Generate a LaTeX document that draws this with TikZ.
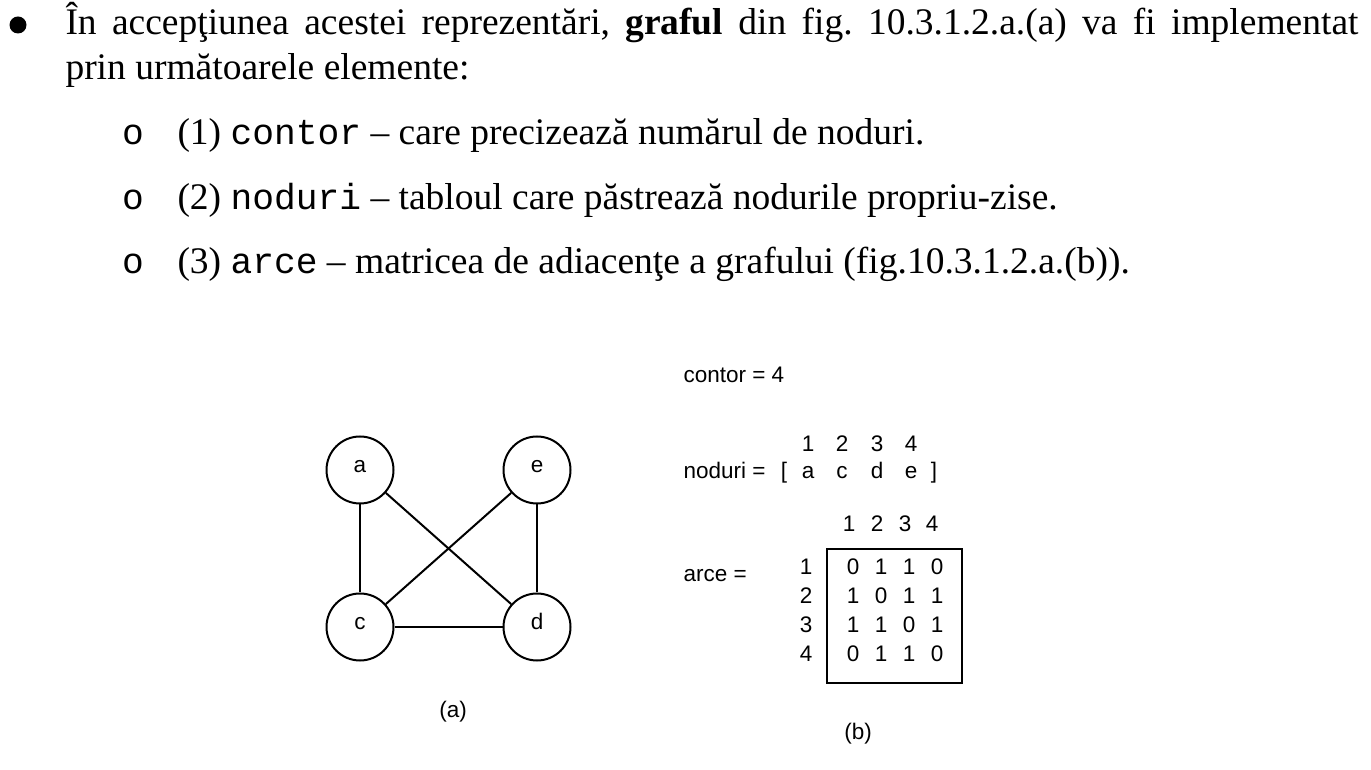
\documentclass[tikz,border=0pt]{standalone}
\usepackage{fontspec}
\setmainfont{Liberation Serif}
\setsansfont{Liberation Sans}
\setmonofont{Liberation Mono}
\frenchspacing
\newcommand{\cod}[1]{{\fontsize{14.5}{17}\ttfamily #1}}
\tikzset{
  vertex/.style={draw, circle, line width=0.8pt, minimum size=26.8pt, inner sep=0pt, text height=2.4pt, text depth=0pt, font=\sffamily\fontsize{9}{10}\selectfont},
  eticheta/.style={font=\sffamily\fontsize{9}{10}\selectfont, inner sep=0pt, anchor=base},
  textul/.style={font=\fontsize{15}{17}\selectfont, inner sep=0pt, anchor=base west},
  marcaj/.style={font=\fontsize{14.5}{17}\ttfamily, inner sep=0pt, anchor=base},
  muchie/.style={line width=0.8pt}
}

\begin{document}
\begin{tikzpicture}[x=0.4pt,y=-0.4pt]
			\useasboundingbox (0,0) rectangle (1371,770);
			% textul de sus
			\fill (18,25) circle (3.4pt);
			\node[textul] (r1) at (65,35) {\hbox to 517.2pt{În accepţiunea acestei reprezentări, \textbf{graful} din fig. 10.3.1.2.a.(a) va fi implementat}};
			\node[textul] (r2) at (65,80) {prin următoarele elemente:};
			\node[marcaj] (o1) at (133,145) {o};
			\node[marcaj] (o2) at (133,210) {o};
			\node[marcaj] (o3) at (133,274) {o};
			\node[textul] (e1) at (177,145) {(1) \cod{contor} – care precizează numărul de noduri.};
			\node[textul] (e2) at (177,210) {(2) \cod{noduri} – tabloul care păstrează nodurile propriu-zise.};
			\node[textul] (e3) at (177,274) {(3) \cod{arce} – matricea de adiacenţe a grafului (fig.10.3.1.2.a.(b)).};
			% graful (a)
			\node[vertex] (a) at (360,470) {a};
			\node[vertex] (e) at (537,470) {e};
			\node[vertex] (c) at (360,627) {c};
			\node[vertex] (d) at (537,627) {d};
			\draw[muchie] (a) -- (c);
			\draw[muchie] (a) -- (d);
			\draw[muchie] (e) -- (c);
			\draw[muchie] (e) -- (d);
			\draw[muchie] (c) -- (d);
			\node[eticheta] (la) at (453,717) {(a)};
			% reprezentarea (b)
			\node[eticheta, anchor=base west] (contor) at (683,383) {contor = 4};
			\node[eticheta, anchor=base west] (noduri) at (683,479) {noduri =};
			\node[eticheta] (st) at (784,479) {[};
			\node[eticheta] (dr) at (934,479) {]};
			\foreach \lit/\x [count=\i] in {a/808, c/842, d/877, e/911} {
				\node[eticheta] (n\i) at (\x,479) {\lit};
				\node[eticheta] (i\i) at (\x,452) {\i};
			}
			\node[eticheta, anchor=base west] (arce) at (683,582) {arce =};
			\foreach \x [count=\j] in {849,877,905,932}
				\node[eticheta] (col\j) at (\x,532) {\j};
			\foreach \rand [count=\i] in {{0,1,1,0},{1,0,1,1},{1,1,0,1},{0,1,1,0}} {
				\node[eticheta] (lin\i) at (806,546+29*\i) {\i};
				\foreach \v [count=\j] in \rand
					\node[eticheta] (m\i\j) at (825+28*\j,546+29*\i) {\v};
			}
			\draw[muchie] (827,549) rectangle (962,683);
			\node[eticheta] (lb) at (858,740) {(b)};
		\end{tikzpicture}
\end{document}
